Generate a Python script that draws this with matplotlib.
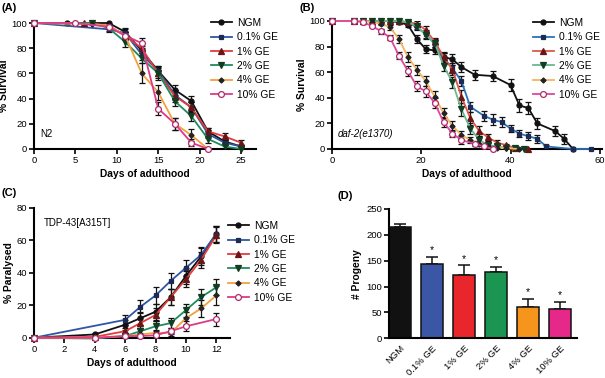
import matplotlib
matplotlib.use("Agg")
import matplotlib.pyplot as plt
import numpy as np

plt.rcParams['font.family'] = ['Liberation Sans', 'DejaVu Sans']

labels = ["NGM", "0.1% GE", "1% GE", "2% GE", "4% GE", "10% GE"]

# ---- Panel A: N2 survival ----
a_x = [
    [0, 4, 9, 11, 13, 15, 17, 19, 21, 23, 25],
    [0, 9, 11, 13, 15, 17, 19, 21, 23, 25],
    [0, 6, 9, 11, 13, 15, 17, 19, 21, 23, 25],
    [0, 7, 9, 11, 13, 15, 17, 19, 21, 23, 25],
    [0, 7, 9, 11, 13, 15, 17, 19, 21],
    [0, 5, 9, 11, 13, 15, 17, 19, 21],
]
a_y = [
    [100, 100, 100, 93, 78, 62, 47, 38, 14, 6, 2],
    [100, 95, 92, 75, 62, 43, 33, 12, 5, 2],
    [100, 100, 98, 90, 80, 60, 42, 33, 14, 10, 5],
    [100, 100, 96, 85, 72, 60, 38, 26, 8, 2, 0],
    [100, 99, 98, 90, 60, 45, 20, 11, 0],
    [100, 100, 97, 90, 84, 32, 20, 5, 0],
]
a_err = [
    [0, 0, 1, 3, 4, 4, 4, 4, 3, 2, 1],
    [0, 2, 3, 4, 4, 4, 4, 3, 2, 1],
    [0, 0, 1, 3, 4, 5, 5, 4, 3, 3, 2],
    [0, 0, 2, 4, 4, 4, 4, 4, 3, 1, 0],
    [0, 0, 1, 3, 8, 6, 5, 5, 0],
    [0, 0, 1, 3, 4, 5, 5, 3, 0],
]

# ---- Panel B: daf-2(e1370) survival ----
b_x = [
    [0, 5, 7, 9, 11, 13, 15, 17, 19, 21, 23, 25, 27, 29, 32, 36, 40, 42, 44, 46, 50, 52, 54],
    [0, 5, 7, 9, 11, 13, 15, 17, 19, 21, 23, 25, 27, 29, 31, 34, 36, 38, 40, 42, 44, 46, 48, 54, 58],
    [0, 5, 7, 9, 11, 13, 15, 17, 19, 21, 23, 25, 27, 29, 31, 33, 35, 37, 39, 41, 44],
    [0, 5, 7, 9, 11, 13, 15, 17, 19, 21, 23, 25, 27, 29, 31, 33, 35, 37, 39, 41, 43],
    [0, 5, 7, 9, 11, 13, 15, 17, 19, 21, 23, 25, 27, 29, 31, 33, 35, 37, 39, 42],
    [0, 5, 7, 9, 11, 13, 15, 17, 19, 21, 23, 25, 27, 29, 32, 34, 36],
]
b_y = [
    [100, 100, 100, 100, 100, 100, 99, 97, 86, 78, 77, 72, 70, 64, 58, 57, 50, 34, 32, 20, 14, 8, 0],
    [100, 100, 100, 100, 100, 100, 100, 99, 95, 90, 82, 71, 63, 53, 33, 26, 23, 21, 16, 12, 10, 8, 2, 0, 0],
    [100, 100, 100, 100, 100, 100, 100, 99, 98, 93, 84, 72, 62, 41, 24, 14, 9, 5, 3, 1, 0],
    [100, 100, 100, 100, 100, 100, 100, 99, 96, 89, 83, 65, 52, 31, 16, 7, 3, 2, 1, 0.5, 0],
    [100, 100, 100, 99, 98, 95, 86, 72, 62, 53, 41, 28, 18, 11, 7, 4, 2, 1, 0.5, 0],
    [100, 100, 99, 96, 92, 87, 73, 61, 49, 45, 36, 21, 12, 7, 4, 2, 0],
]
b_err = [
    [0, 0, 0, 0, 0, 0, 1, 2, 3, 3, 3, 3, 4, 4, 4, 4, 5, 5, 5, 4, 4, 4, 0],
    [0, 0, 0, 0, 0, 0, 0, 1, 2, 3, 3, 4, 4, 4, 4, 4, 4, 4, 3, 3, 3, 3, 1, 0, 0],
    [0, 0, 0, 0, 0, 0, 0, 1, 2, 3, 3, 4, 4, 5, 5, 4, 3, 2, 1, 1, 0],
    [0, 0, 0, 0, 0, 0, 0, 1, 2, 3, 3, 4, 4, 5, 4, 3, 2, 1, 1, 0, 0],
    [0, 0, 0, 1, 1, 2, 3, 4, 4, 4, 4, 4, 4, 3, 2, 2, 1, 1, 0, 0],
    [0, 0, 1, 1, 2, 2, 3, 4, 4, 4, 4, 4, 3, 3, 2, 1, 0],
]

# ---- Panel C: TDP-43 paralysis ----
c_x = [
    [0, 4, 6, 7, 8, 9, 10, 11, 12],
    [0, 6, 7, 8, 9, 10, 11, 12],
    [0, 4, 6, 7, 8, 9, 10, 11, 12],
    [0, 4, 6, 7, 8, 9, 10, 11, 12],
    [0, 4, 6, 7, 8, 9, 10, 11, 12],
    [0, 4, 6, 7, 8, 9, 10, 12],
]
c_y = [
    [0, 2, 8, 12, 16, 25, 38, 50, 64],
    [0, 11, 19, 26, 35, 43, 51, 64],
    [0, 0.5, 4, 9, 14, 25, 36, 48, 63],
    [0, -0.5, 1, 4, 7, 9, 17, 25, 31],
    [0, 0, 1, 2, 3, 3, 12, 18, 26],
    [0, 0, 1, 1, 1.5, 4, 7, 11.5],
]
c_err = [
    [0, 1, 3, 4, 5, 5, 5, 5, 5],
    [0, 3, 4, 5, 5, 5, 5, 5],
    [0, 0, 2, 3, 4, 5, 5, 5, 5],
    [0, 0, 1, 2, 3, 3, 4, 5, 5],
    [0, 0, 1, 1, 2, 2, 4, 5, 6],
    [0, 0, 0, 0, 1, 2, 3, 4],
]

# ---- Panel D: progeny ----
d_cats = ["NGM", "0.1% GE", "1% GE", "2% GE", "4% GE", "10% GE"]
d_vals = [215, 143, 123, 129, 60, 56]
d_err = [6, 15, 18, 9, 16, 14]
d_sig = ["", "*", "*", "*", "*", "*"]

line_cols = ["#111111", "#2e56a3", "#e23c3f", "#1f8c5c", "#f2a23c", "#dd3a8a"]
line_cols_b = ["#111111", "#2a72b8", "#e0564a", "#6ab890", "#f3b55e", "#e0479a"]
mk = ["o", "s", "^", "v", "D", "o"]
mfc = ["#111111", "#1c2a55", "#6a1616", "#123d22", "#222222", "white"]
mec = ["#111111", "#1c2a55", "#6a1616", "#123d22", "#222222", "#b02a6c"]
msz = [3.6, 3.4, 3.8, 3.8, 2.6, 4.2]
bar_cols = ["#111111", "#3a56a5", "#e8262b", "#1b9652", "#f7941d", "#e5288a"]

W, H = 605, 378
fig = plt.figure(figsize=(W / 100, H / 100), dpi=100)


def ax_px(l, t, r, b):
    return fig.add_axes([l / W, 1 - b / H, (r - l) / W, (b - t) / H])


def style(ax):
    for s in ["top", "right"]:
        ax.spines[s].set_visible(False)
    for s in ["left", "bottom"]:
        ax.spines[s].set_linewidth(1.5)
    ax.tick_params(direction="out", length=3.5, width=1.2, labelsize=6.8, pad=1.5)


def draw_lines(ax, xs, ys, es, cols):
    handles = []
    for i in range(len(xs)):
        ax.errorbar(xs[i], ys[i], yerr=es[i], fmt="none", ecolor="#111111",
                    elinewidth=0.9, capsize=2.3, capthick=0.9, zorder=2)
        h, = ax.plot(xs[i], ys[i], color=cols[i], lw=1.3, marker=mk[i], ms=msz[i],
                     mfc=mfc[i], mec=mec[i], mew=0.9, zorder=3, clip_on=False,
                     label=labels[i])
        handles.append(h)
    return handles


def legend(ax, handles, x, y):
    ax.legend(handles=handles, loc="upper left", bbox_to_anchor=(x / W, 1 - y / H),
              bbox_transform=fig.transFigure, frameon=False, fontsize=7.4,
              handlelength=2.0, handletextpad=0.5, labelspacing=0.42, borderpad=0,
              borderaxespad=0)

# Panel A
axA = ax_px(34, 23, 256, 149)
hA = draw_lines(axA, a_x, a_y, a_err, line_cols)
axA.set_xlim(0, 26.8)
axA.set_ylim(0, 100)
axA.set_xticks([0, 5, 10, 15, 20, 25])
axA.set_yticks([0, 20, 40, 60, 80, 100])
style(axA)
axA.set_xlabel("Days of adulthood", fontsize=7.4, fontweight="bold", labelpad=3)
axA.set_ylabel("% Survival", fontsize=7.4, fontweight="bold", labelpad=2)
axA.text(0.03, 0.08, "N2", transform=axA.transAxes, fontsize=7, va="bottom")
legend(axA, hA, 211, 18)

# Panel B
axB = ax_px(332, 21, 602, 149)
hB = draw_lines(axB, b_x, b_y, b_err, line_cols_b)
axB.set_xlim(0, 60.5)
axB.set_ylim(0, 100)
axB.set_xticks([0, 20, 40, 60])
axB.set_yticks([0, 20, 40, 60, 80, 100])
style(axB)
axB.set_xlabel("Days of adulthood", fontsize=7.4, fontweight="bold", labelpad=3)
axB.set_ylabel("% Survival", fontsize=7.4, fontweight="bold", labelpad=2)
axB.text(0.02, 0.08, "daf-2(e1370)", transform=axB.transAxes, fontsize=7,
         style="italic", va="bottom")
legend(axB, hB, 533, 18)

# Panel C
axC = ax_px(34, 207.7, 230, 337.7)
hC = draw_lines(axC, c_x, c_y, c_err, line_cols)
axC.set_xlim(0, 12.9)
axC.set_ylim(0, 80)
axC.set_xticks([0, 2, 4, 6, 8, 10, 12])
axC.set_yticks([0, 20, 40, 60, 80])
style(axC)
axC.set_xlabel("Days of adulthood", fontsize=7.4, fontweight="bold", labelpad=3)
axC.set_ylabel("% Paralysed", fontsize=7.4, fontweight="bold", labelpad=2)
axC.text(0.05, 0.92, "TDP-43[A315T]", transform=axC.transAxes, fontsize=7, va="top")
legend(axC, hC, 228, 221)

# Panel D
axD = ax_px(389, 209, 577, 338.3)
xpos = np.arange(len(d_cats))
axD.bar(xpos, d_vals, width=0.69, color=bar_cols, edgecolor="#111111", linewidth=1.1, zorder=2)
axD.errorbar(xpos, d_vals, yerr=[np.zeros(len(d_err)), d_err], fmt="none",
             ecolor="#111111", elinewidth=1.1, capsize=4, capthick=1.1, zorder=1)
for i in range(len(d_cats)):
    if d_sig[i]:
        axD.text(xpos[i], d_vals[i] + d_err[i] + 3, d_sig[i], ha="center", va="bottom",
                 fontsize=7.5)
axD.set_xlim(-0.345, 5.53)
axD.set_ylim(0, 250)
axD.set_yticks([0, 50, 100, 150, 200, 250])
axD.set_xticks(xpos)
axD.set_xticklabels(d_cats, rotation=45, ha="right", rotation_mode="anchor")
style(axD)
axD.tick_params(axis="x", length=0, pad=4)
axD.set_ylabel("# Progeny", fontsize=7.4, fontweight="bold", labelpad=3)

# Panel letters
fig.text(2 / W, 1 - 3 / H, "(A)", fontsize=8, fontweight="bold", va="top")
fig.text(300 / W, 1 - 3 / H, "(B)", fontsize=8, fontweight="bold", va="top")
fig.text(2 / W, 1 - 188 / H, "(C)", fontsize=8, fontweight="bold", va="top")
fig.text(338 / W, 1 - 191 / H, "(D)", fontsize=8, fontweight="bold", va="top")

fig.savefig("out.png", dpi=100)
